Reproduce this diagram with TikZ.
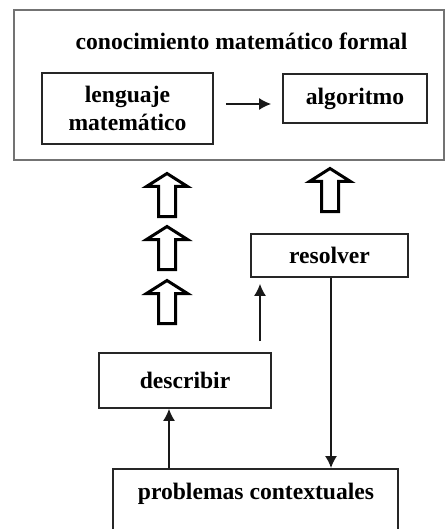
\documentclass[tikz,border=0pt]{standalone}
\usepackage{fontspec}
\setmainfont{Liberation Serif}
\usepackage{tikz}
\usetikzlibrary{arrows.meta}
\tikzset{
  box/.style={draw=black!85, line width=0.9pt, align=center, inner sep=0pt,
              font=\bfseries\fontsize{11.8}{14}\selectfont},
  label text/.style={font=\bfseries\fontsize{11.8}{14}\selectfont},
  frame/.style={draw=black!55, line width=1pt},
  thin arrow/.style={draw=black!90, line width=0.7pt, -{Latex[length=6pt,width=6pt]}},
  hollow arrow/.style={draw=black, line width=1.5pt, fill=white}
}
\def\HollowUp#1#2{%
  \draw[hollow arrow] (#1,#2) -- ++(20.5,13) -- ++(-12,0) -- ++(0,30)
     -- ++(-17,0) -- ++(0,-30) -- ++(-12,0) -- cycle;
}

\begin{document}
\begin{tikzpicture}[x=0.5pt, y=-0.5pt]
\clip (0,0) rectangle (446,529);
% upper block
\node[frame, minimum width=215pt, minimum height=75pt] (formal) at (229,85) {};
\node[label text] (titulo) at (241.5,41) {conocimiento matemático formal};
\node[box, minimum width=85.5pt, minimum height=35.5pt] (leng) at (127.5,108.5) {lenguaje\\matemático};
\node[box, minimum width=72pt, minimum height=24.5pt] (algo) at (355,98.5) {algoritmo};
\coordinate (mid) at (0,104);
\draw[thin arrow, shorten <=6pt, shorten >=5.5pt] (leng.east |- mid) -- (algo.west |- mid);

% wide arrows
\HollowUp{167}{173.5}
\HollowUp{167}{226.5}
\HollowUp{167}{280.5}
\HollowUp{330}{168.5}

% lower part
\node[box, minimum width=78.5pt, minimum height=21.5pt] (resolver) at (329.5,255.5) {resolver};
\node[box, minimum width=86pt, minimum height=27.5pt] (describir) at (185,380.5) {describir};
\node[box, minimum width=142.5pt, minimum height=50pt, anchor=north] (prob) at (255.5,468) {};
\node[label text] (probtext) at (256,494) {problemas contextuales};

\coordinate (dup) at (169,0);
\coordinate (rup) at (260,0);
\coordinate (down) at (331,0);
\draw[thin arrow] (prob.north -| dup) -- (describir.south -| dup);
\draw[thin arrow, shorten <=5.5pt, shorten >=3pt] (describir.north -| rup) -- (resolver.south -| rup);
\draw[thin arrow] (resolver.south -| down) -- (prob.north -| down);
\end{tikzpicture}
\end{document}
